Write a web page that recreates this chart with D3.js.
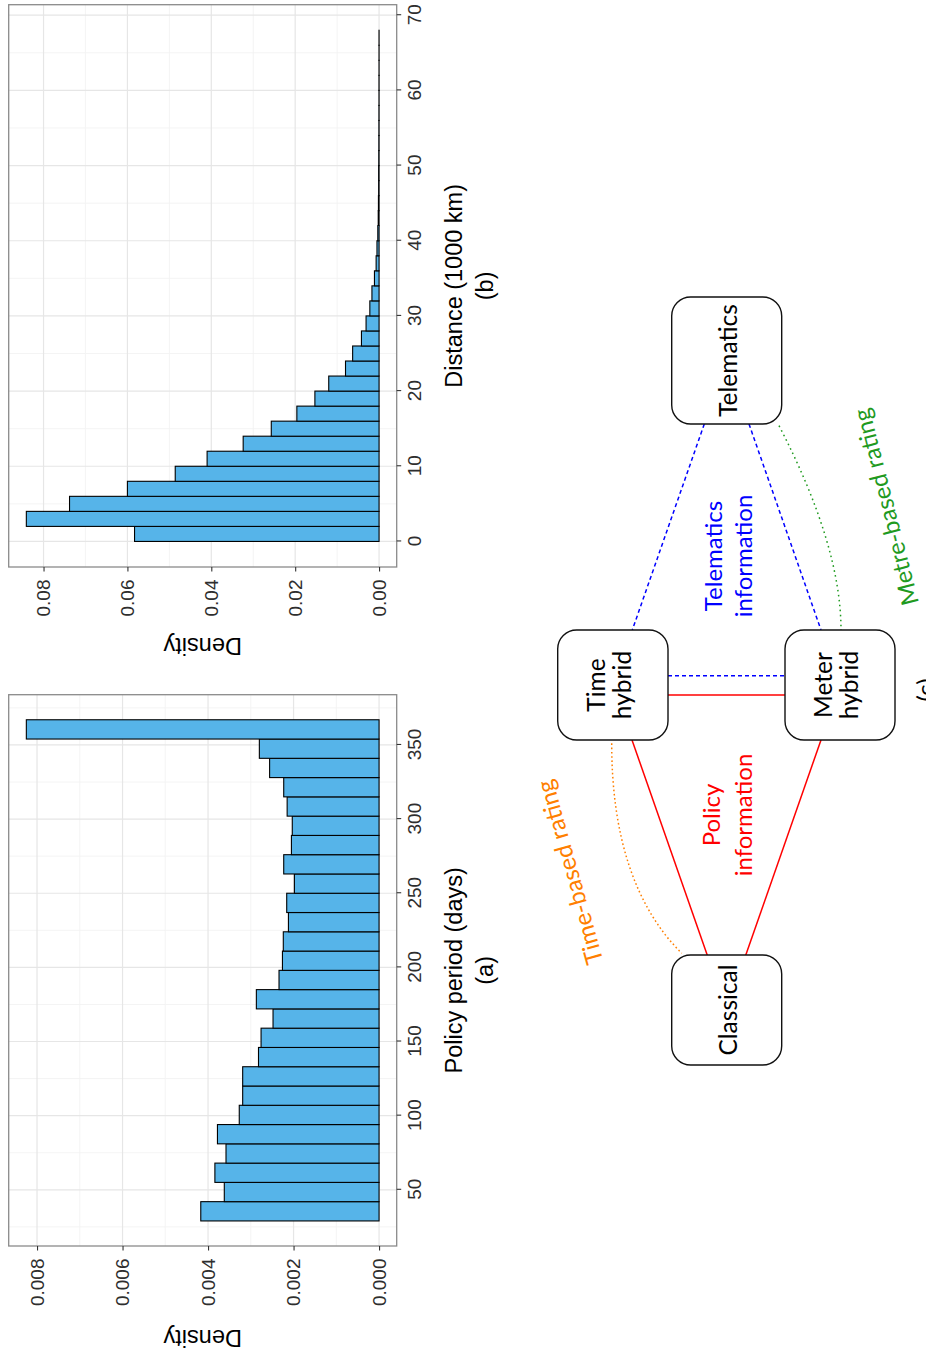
<!DOCTYPE html>
<html>
<head>
<meta charset="utf-8">
<script src="https://cdn.jsdelivr.net/npm/d3@7"></script>
<style>
  html, body { margin: 0; padding: 0; background: #fff; }
  svg { display: block; }
</style>
</head>
<body>
<script>
// ---------------- data ----------------
// (a) policy period histogram: bin edges (days) and densities
const periodBreaks = [29, 42, 55, 68, 81, 94, 107, 120, 133, 146, 159, 172, 185, 198,
  211, 224, 237, 250, 263, 276, 289, 302, 315, 328, 341, 354, 367];
const periodDensity = [0.00417, 0.00362, 0.00384, 0.00358, 0.00378, 0.00327, 0.00319,
  0.00319, 0.00282, 0.00276, 0.00248, 0.00287, 0.00234, 0.00226, 0.00224, 0.00212,
  0.00216, 0.00198, 0.00223, 0.00205, 0.00203, 0.00215, 0.00223, 0.00256, 0.00280, 0.00825];
const periodTicks = [50, 100, 150, 200, 250, 300, 350];
const periodDensityTicks = [0, 0.002, 0.004, 0.006, 0.008];

// (b) distance histogram: bin edges (1000 km) and densities
const distanceBreaks = [0, 2, 4, 6, 8, 10, 12, 14, 16, 18, 20, 22, 24, 26, 28, 30, 32, 34,
  36, 38, 40, 42, 44, 46, 48, 50, 52, 54, 56, 58, 60, 62, 64, 66, 68];
const distanceDensity = [0.0583, 0.0841, 0.0738, 0.0600, 0.0486, 0.0410, 0.0324, 0.0257,
  0.0196, 0.0153, 0.0120, 0.0080, 0.0063, 0.0042, 0.0031, 0.0022, 0.0017, 0.0011, 0.0007,
  0.0005, 0.0003, 0.0002, 0.00015, 0.0001, 0.0001, 0.00007, 0.00005, 0.00004, 0.00003,
  0.00002, 0.00002, 0.00001, 0.00001, 0.00001];
const distanceTicks = [0, 10, 20, 30, 40, 50, 60, 70];
const distanceDensityTicks = [0, 0.02, 0.04, 0.06, 0.08];

// (c) rating schemes and the information shared between them
const schemeIds = ["classical", "time", "meter", "telematics"];
const schemeLabels = [["Classical"], ["Time", "hybrid"], ["Meter", "hybrid"], ["Telematics"]];
const edgeLabels = [
  { text: ["Policy", "information"], color: "#FF0000" },
  { text: ["Telematics", "information"], color: "#0000FF" },
  { text: ["Time-based rating"], color: "#FF7F00" },
  { text: ["Metre-based rating"], color: "#1F9A1F" }
];

// ---------------- page ----------------
// The figure is laid out landscape (1359 x 926) and turned a quarter turn.
const LW = 1359, LH = 926;
const svg = d3.select("body").append("svg").attr("width", 926).attr("height", 1359);
const root = svg.append("g").attr("transform", `translate(0,${LW}) rotate(-90)`);

const PLOT_FONT = "'Liberation Sans', Arial, sans-serif";
const DIAG_FONT = "Lato, 'Open Sans', sans-serif";

function minorBreaks(ticks, domain) {
  const step = ticks[1] - ticks[0];
  const out = [ticks[0] - step / 2];
  d3.pairs(ticks).forEach(([a, b]) => out.push((a + b) / 2));
  out.push(ticks[ticks.length - 1] + step / 2);
  return out.filter(v => v > domain[0] && v < domain[1]);
}

function drawHistogram(cfg) {
  const { left, right, top, bottom, breaks, dens, xTicks, yTicks, yFmt,
          xTitle, tag, yTitleX } = cfg;
  const xExt = d3.extent(breaks), xPad = (xExt[1] - xExt[0]) * 0.05;
  const yMax = d3.max(dens), yPad = yMax * 0.05;
  const xDomain = [xExt[0] - xPad, xExt[1] + xPad];
  const yDomain = [-yPad, yMax + yPad];
  const x = d3.scaleLinear().domain(xDomain).range([left, right]);
  const y = d3.scaleLinear().domain(yDomain).range([bottom, top]);
  const g = root.append("g");

  // minor grid
  g.append("g").selectAll("line").data(minorBreaks(xTicks, xDomain)).join("line")
    .attr("x1", d => x(d)).attr("x2", d => x(d)).attr("y1", top).attr("y2", bottom)
    .attr("stroke", "#F3F3F3").attr("stroke-width", 0.9);
  g.append("g").selectAll("line").data(minorBreaks(yTicks, yDomain)).join("line")
    .attr("y1", d => y(d)).attr("y2", d => y(d)).attr("x1", left).attr("x2", right)
    .attr("stroke", "#F3F3F3").attr("stroke-width", 0.9);
  // major grid
  g.append("g").selectAll("line").data(xTicks).join("line")
    .attr("x1", d => x(d)).attr("x2", d => x(d)).attr("y1", top).attr("y2", bottom)
    .attr("stroke", "#E6E6E6").attr("stroke-width", 1.2);
  g.append("g").selectAll("line").data(yTicks).join("line")
    .attr("y1", d => y(d)).attr("y2", d => y(d)).attr("x1", left).attr("x2", right)
    .attr("stroke", "#E6E6E6").attr("stroke-width", 1.2);

  // bars
  const bins = dens.map((v, i) => ({ x0: breaks[i], x1: breaks[i + 1], v }));
  g.append("g").selectAll("rect").data(bins).join("rect")
    .attr("x", d => x(d.x0)).attr("width", d => x(d.x1) - x(d.x0))
    .attr("y", d => y(d.v)).attr("height", d => y(0) - y(d.v))
    .attr("fill", "#56B4E9").attr("stroke", "#000").attr("stroke-width", 1.1);

  // panel border
  g.append("rect").attr("x", left).attr("y", top)
    .attr("width", right - left).attr("height", bottom - top)
    .attr("fill", "none").attr("stroke", "#8A8A8A").attr("stroke-width", 1.3);

  // axes
  const ax = g.append("g").attr("transform", `translate(0,${bottom})`)
    .call(d3.axisBottom(x).tickValues(xTicks).tickSize(4.5).tickPadding(6));
  const ay = g.append("g").attr("transform", `translate(${left},0)`)
    .call(d3.axisLeft(y).tickValues(yTicks).tickSize(4.5).tickPadding(8)
      .tickFormat(d3.format(yFmt)));
  [ax, ay].forEach(a => {
    a.select(".domain").remove();
    a.selectAll(".tick line").attr("stroke", "#333").attr("stroke-width", 1.1);
    a.selectAll(".tick text").attr("fill", "#2E2E2E")
      .style("font-family", PLOT_FONT).style("font-size", "19px");
  });

  // titles
  const cx = (left + right) / 2;
  g.append("text").attr("x", cx).attr("y", 462).attr("text-anchor", "middle")
    .style("font-family", PLOT_FONT).style("font-size", "23.5px").text(xTitle);
  g.append("text").attr("x", cx).attr("y", 493).attr("text-anchor", "middle")
    .style("font-family", PLOT_FONT).style("font-size", "23.5px").text(tag);
  g.append("text")
    .attr("transform", `translate(${yTitleX},${(top + bottom) / 2}) rotate(-90)`)
    .attr("text-anchor", "middle")
    .style("font-family", PLOT_FONT).style("font-size", "23.5px").text("Density");
}

drawHistogram({
  left: 113, right: 664.3, top: 8.7, bottom: 396.7,
  breaks: periodBreaks, dens: periodDensity,
  xTicks: periodTicks, yTicks: periodDensityTicks, yFmt: ".3f",
  xTitle: "Policy period (days)", tag: "(a)", yTitleX: 29
});
drawHistogram({
  left: 792, right: 1354.3, top: 8.7, bottom: 396.7,
  breaks: distanceBreaks, dens: distanceDensity,
  xTicks: distanceTicks, yTicks: distanceDensityTicks, yFmt: ".2f",
  xTitle: "Distance (1000 km)", tag: "(b)", yTitleX: 721
});

// ---------------- (c) diagram ----------------
const diag = root.append("g");
const boxes = {
  classical:  { x0: 294, x1: 404,  y0: 671.7, y1: 781.7 },
  time:       { x0: 619, x1: 729,  y0: 557.7, y1: 668 },
  meter:      { x0: 619, x1: 729,  y0: 785,   y1: 895 },
  telematics: { x0: 935, x1: 1062, y0: 671.7, y1: 781.7 }
};

const line = d3.line();
const curve = (p0, c, p1) => { const p = d3.path(); p.moveTo(...p0); p.quadraticCurveTo(...c, ...p1); return p.toString(); };

// links
const links = [
  // policy information
  { d: line([[619, 632], [403.7, 707.3]]), color: "#FF0000", dash: null },
  { d: line([[619, 821], [403.7, 745.7]]), color: "#FF0000", dash: null },
  { d: line([[664, 668], [664, 785]]), color: "#FF0000", dash: null },
  // telematics information
  { d: line([[935, 704.3], [729, 632.3]]), color: "#0000FF", dash: "4,3" },
  { d: line([[935, 749], [729, 821]]), color: "#0000FF", dash: "4,3" },
  { d: line([[683.3, 668], [683.3, 785]]), color: "#0000FF", dash: "4,3" },
  // rating transitions
  { d: curve([615.7, 611.7], [475.7, 611.7], [405.7, 681.7]), color: "#FF7F00", dash: "1.6,2.6" },
  { d: curve([933.3, 779], [813.6, 841], [729, 841]), color: "#1F9A1F", dash: "1.6,3.4" }
];
diag.append("g").selectAll("path").data(links).join("path")
  .attr("d", d => d.d).attr("fill", "none").attr("stroke", d => d.color)
  .attr("stroke-width", 1.5).attr("stroke-dasharray", d => d.dash);

// scheme boxes
const nodes = schemeIds.map((id, i) => ({ id, lines: schemeLabels[i], b: boxes[id] }));
const ng = diag.append("g").selectAll("g").data(nodes).join("g");
ng.append("rect")
  .attr("x", d => d.b.x0).attr("y", d => d.b.y0)
  .attr("width", d => d.b.x1 - d.b.x0).attr("height", d => d.b.y1 - d.b.y0)
  .attr("rx", 19).attr("fill", "#fff").attr("stroke", "#111").attr("stroke-width", 1.4);
ng.each(function (d) {
  const cx = (d.b.x0 + d.b.x1) / 2, cy = (d.b.y0 + d.b.y1) / 2;
  const base = d.lines.length === 1 ? [cy + 10] : [cy - 8, cy + 18];
  d.lines.forEach((t, k) => {
    d3.select(this).append("text").attr("x", cx).attr("y", base[k])
      .attr("text-anchor", "middle").attr("fill", "#000")
      .style("font-family", DIAG_FONT).style("font-size", "24.5px").text(t);
  });
});

// edge labels
const labelPlaces = [
  { x: 544, y: [720, 751.5], angle: 0 },
  { x: 803, y: [721.5, 751.5], angle: 0 },
  { x: 489, y: [578], angle: -15.6 },
  { x: 854, y: [894], angle: -14.3 }
];
edgeLabels.forEach((lab, i) => {
  const p = labelPlaces[i];
  const t = diag.append("g").attr("transform", `translate(${p.x},0)`);
  lab.text.forEach((s, k) => {
    t.append("text")
      .attr("transform", `translate(0,${p.y[k]}) rotate(${p.angle})`)
      .attr("text-anchor", "middle").attr("fill", lab.color)
      .style("font-family", DIAG_FONT).style("font-size", "24px").text(s);
  });
});

// panel tag of the diagram, partly below the page edge
diag.append("text").attr("x", 669).attr("y", 934).attr("text-anchor", "middle")
  .style("font-family", DIAG_FONT).style("font-size", "24px").text("(c)");
</script>
</body>
</html>
